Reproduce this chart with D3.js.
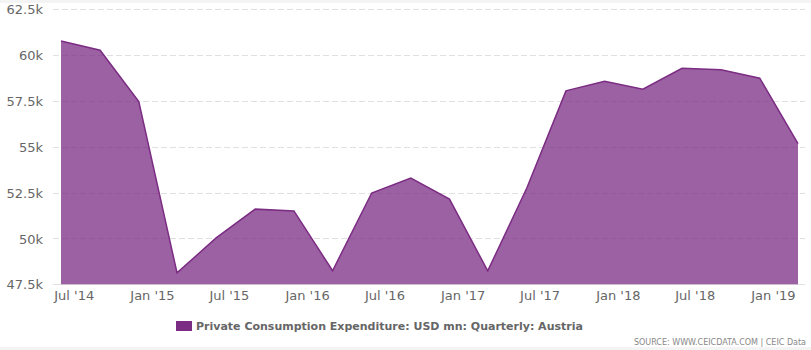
<!DOCTYPE html>
<html><head><meta charset="utf-8">
<script src="https://cdn.jsdelivr.net/npm/d3@7"></script>
<style>
html,body{margin:0;padding:0;background:#fff;}
svg{display:block;font-family:"DejaVu Sans",Verdana,sans-serif;}
</style></head>
<body>
<svg id="chart" width="811" height="350"></svg>
<script>
const dates = ["2014-06","2014-09","2014-12","2015-03","2015-06","2015-09","2015-12","2016-03","2016-06","2016-09","2016-12","2017-03","2017-06","2017-09","2017-12","2018-03","2018-06","2018-09","2018-12","2019-03"];
const values = [60770,60270,57470,48120,50030,51600,51500,48240,52480,53300,52150,48230,52750,58050,58570,58140,59280,59200,58740,55170];
const yTicks = [47500,50000,52500,55000,57500,60000,62500];
const yTickLabels = ["47.5k","50k","52.5k","55k","57.5k","60k","62.5k"];
const xTicks = ["2014-07","2015-01","2015-07","2016-01","2016-07","2017-01","2017-07","2018-01","2018-07","2019-01"];
const xTickLabels = ["Jul '14","Jan '15","Jul '15","Jan '16","Jul '16","Jan '17","Jul '17","Jan '18","Jul '18","Jan '19"];
const seriesName = "Private Consumption Expenditure: USD mn: Quarterly: Austria";
const sourceText = "SOURCE: WWW.CEICDATA.COM | CEIC Data";

const svg = d3.select("#chart");
const W = 811, H = 350;
const parse = d3.timeParse("%Y-%m");
const data = dates.map((d,i)=>({date:parse(d), value:values[i]}));

// background strips
svg.append("rect").attr("x",0).attr("y",0).attr("width",W).attr("height",3).attr("fill","#f4f4f4");
svg.append("rect").attr("x",0).attr("y",347).attr("width",W).attr("height",3).attr("fill","#f4f4f4");

const plotL = 53, plotR = 805;
const x = d3.scaleTime().domain(d3.extent(data,d=>d.date)).range([61,798]);
const y = d3.scaleLinear().domain([47500,62500]).range([284.3,9.3]);

// gridlines
const grid = svg.append("g");
yTicks.forEach((t,i)=>{
  grid.append("line").attr("x1",plotL).attr("x2",plotR)
    .attr("y1",Math.round(y(t))+0.5).attr("y2",Math.round(y(t))+0.5)
    .attr("stroke","#e0e0e0")
    .attr("stroke-width",1)
    .attr("stroke-dasharray", i===0 ? null : "6,3");
});

// area
const area = d3.area().x(d=>x(d.date)).y0(y(47500)).y1(d=>y(d.value));
svg.append("path").datum(data).attr("d",area).attr("fill","#7b2c83").attr("fill-opacity",0.75);
const line = d3.line().x(d=>x(d.date)).y(d=>y(d.value));
svg.append("path").datum(data).attr("d",line).attr("fill","none").attr("stroke","#7b2c83").attr("stroke-width",1.5);

// y axis labels
const yAxis = d3.axisLeft(y).tickValues(yTicks).tickFormat((d,i)=>yTickLabels[i]).tickSize(0).tickPadding(0);
const gy = svg.append("g").attr("transform","translate(43,0)").call(yAxis);
gy.select(".domain").remove();
gy.selectAll("text").attr("font-size","13px").attr("fill","#666").attr("font-family","DejaVu Sans, sans-serif").attr("dy","0.35em");

// x axis labels
const xAxis = d3.axisBottom(x).tickValues(xTicks.map(parse)).tickFormat((d,i)=>xTickLabels[i]).tickSize(0).tickPadding(0);
const gx = svg.append("g").attr("transform","translate(0,291)").call(xAxis);
gx.select(".domain").remove();
gx.selectAll("text").attr("font-size","13px").attr("fill","#666").attr("font-family","DejaVu Sans, sans-serif").attr("dy","0.71em");

// legend
svg.append("rect").attr("x",176).attr("y",321).attr("width",16).attr("height",10).attr("fill","#7b2c83");
svg.append("text").attr("x",196).attr("y",330).attr("font-size","11px").attr("font-weight","bold").attr("fill","#666").text(seriesName);

// source
svg.append("text").attr("x",806).attr("y",345).attr("text-anchor","end").attr("font-size","8px").attr("fill","#888").text(sourceText);
</script>
</body></html>
